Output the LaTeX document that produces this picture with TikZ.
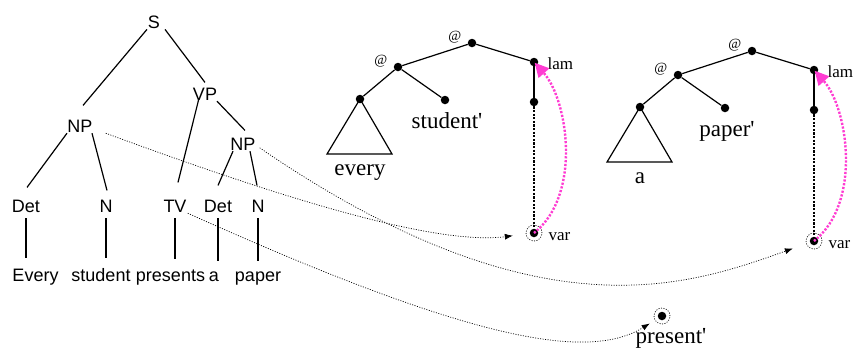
\documentclass[tikz,border=0pt]{standalone}
\usepackage{fontspec}
\setmainfont{Liberation Serif}
\setsansfont{Liberation Sans}
\usetikzlibrary{arrows.meta,calc}
\definecolor{bindpink}{RGB}{255,60,210}
\tikzset{
  cat/.style={font=\sffamily\fontsize{18}{20}\selectfont, inner sep=1pt, anchor=base},
  sem/.style={font=\fontsize{23}{26}\selectfont, inner sep=1pt},
  tag/.style={font=\fontsize{17}{20}\selectfont, inner sep=1pt},
  atlab/.style={font=\fontsize{14}{16}\selectfont, inner sep=1pt},
  dot/.style={circle, fill=black, inner sep=0pt, minimum size=8.5pt},
  hole/.style={circle, draw=black, line width=0.7pt, dash pattern=on 1pt off 1.5pt,
    minimum size=16pt, inner sep=0pt,
    path picture={\fill[black] (path picture bounding box.center) circle (4.25pt);}},
  br/.style={line width=1.2pt},
  leaf/.style={br, shorten <=5pt, shorten >=9pt},
  link/.style={line width=0.7pt, dash pattern=on 1pt off 1.5pt, -{Latex[length=8pt,width=6pt]}},
  chain/.style={line width=2.2pt, dash pattern=on 2.2pt off 1.4pt},
  bind/.style={draw=bindpink, line width=2.4pt, dash pattern=on 2.2pt off 1.6pt,
    -{Triangle[length=14pt 0 0,width=14pt 0 0]}}
}
\begin{document}
\begin{tikzpicture}[x=1pt, y=-1pt]
  \useasboundingbox (0,0) rectangle (857,349);

  \node[cat] (s) at (154,28) {S};
  \node[cat] (vp) at (205,100) {VP};
  \node[cat] (npl) at (80,132) {NP};
  \node[cat] (npr) at (243,150) {NP};
  \node[cat] (det1) at (26,212) {Det};
  \node[cat] (n1) at (106,212) {N};
  \node[cat] (tv) at (175,212) {TV};
  \node[cat] (det2) at (218,212) {Det};
  \node[cat] (n2) at (258,212) {N};
  \node[cat] (w1) at (35.5,281) {Every};
  \node[cat] (w2) at (101,281) {student};
  \node[cat] (w3) at (170.5,281) {presents};
  \node[cat] (w4) at (214,281) {a};
  \node[cat] (w5) at (258,281) {paper};

  \draw[br] ([xshift=-7pt]s.south) -- ([xshift=3pt,yshift=13pt]npl.north);
  \draw[br] ([xshift=11pt]s.south) -- ([yshift=4pt]vp.north);
  \draw[br] ([xshift=-6pt,yshift=3pt]vp.south) -- ([xshift=3pt,yshift=16pt]tv.north);
  \draw[br] ([xshift=12pt]vp.south) -- ([xshift=2pt,yshift=6pt]npr.north);
  \draw[br] ([xshift=-13pt]npl.south) -- ([xshift=1pt,yshift=11pt]det1.north);
  \draw[br] ([xshift=12pt]npl.south) -- ([xshift=1pt,yshift=8pt]n1.north);
  \draw[br] ([xshift=-10pt]npr.south) -- ([yshift=13pt]det2.north);
  \draw[br] ([xshift=7pt]npr.south) -- ([xshift=-1pt,yshift=13pt]n2.north);
  \foreach \c/\w in {det1/w1, n1/w2, tv/w3, det2/w4, n2/w5}
    \draw[leaf] (\c.south) -- (\c.south |- \w.north);

  \foreach \i/\dx/\dy/\dword/\nword in {1/0/0/every/student\textquotesingle, 2/280/8/a/paper\textquotesingle}{
    \begin{scope}[shift={(\dx,\dy)}]
      \node[dot, label={[atlab, label distance=5pt, yshift=6pt]left:@}] (top\i) at (472,43) {};
      \node[dot, label={[atlab, label distance=5pt, yshift=6pt]left:@}] (app\i) at (398,67) {};
      \node[dot, label={[tag, label distance=8pt, yshift=-2pt]right:lam}] (lam\i) at (534,62) {};
      \node[dot] (q\i) at (360,99) {};
      \node[dot] (noun\i) at (445,100) {};
      \node[dot] (body\i) at (534,102) {};
      \node[hole, label={[tag, label distance=5pt, yshift=-4pt]right:var}] (var\i) at (534,233) {};
      \node[sem, anchor=base] (qw\i) at (360,175) {\dword};
      \node[sem, anchor=base] (nw\i) at (447,128) {\nword};

      \draw[br] (top\i) -- (app\i);
      \draw[br] (top\i) -- (lam\i);
      \draw[br] (app\i) -- (q\i);
      \draw[br] (app\i) -- (noun\i);
      \draw[br] (lam\i) -- (body\i);
      \draw[br, line join=miter] (q\i.center) -- ++(-33,55) -- ++(65,0) -- cycle;
      \draw[chain, shorten >=4pt] (body\i) -- (var\i.center);
      \draw[bind, shorten >=1pt] (var\i.center) .. controls (582,195) and (568,100) .. (lam\i.center);
    \end{scope}
  }

  \node[hole, label={[sem, label distance=3pt, xshift=9pt]below:present\textquotesingle}] (pres) at (662,316) {};

  \draw[link, shorten >=13pt] ([xshift=12pt]npl.south east) .. controls (300,205) and (440,245) .. (var1);
  \draw[link, shorten >=14pt] ([xshift=3pt,yshift=-4pt]npr.east) .. controls (540,340) and (690,285) .. (var2);
  \draw[link, shorten >=6pt] (tv.south east) .. controls (480,345) and (590,360) .. (pres);
\end{tikzpicture}
\end{document}
